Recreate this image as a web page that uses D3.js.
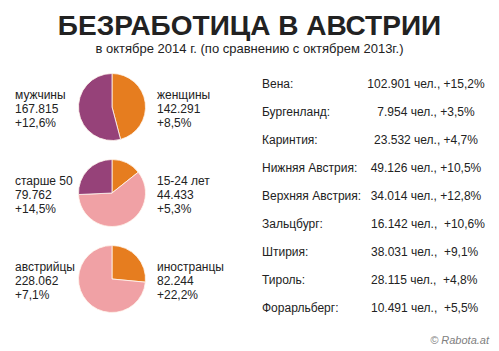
<!DOCTYPE html>
<html>
<head>
<meta charset="utf-8">
<script src="https://cdn.jsdelivr.net/npm/d3@7"></script>
<style>
  body { margin: 0; background: #fff; }
  text { font-family: "Liberation Sans", Arial, sans-serif; fill: #222; }
</style>
</head>
<body>
<svg id="chart" width="499" height="351"></svg>
<script>
// unemployment in Austria, October 2014

var title = "БЕЗРАБОТИЦА В АВСТРИИ"
var subtitle = "в октябре 2014 г. (по сравнению с октябрем 2013г.)"

// pies: left label, right label, slices (clockwise from top)
var pieNames = ["gender", "age", "origin"]
var leftLabels = [
  ["мужчины", "167.815", "+12,6%"],
  ["старше 50", "79.762", "+14,5%"],
  ["австрийцы", "228.062", "+7,1%"]
]
var rightLabels = [
  ["женщины", "142.291", "+8,5%"],
  ["15-24 лет", "44.433", "+5,3%"],
  ["иностранцы", "82.244", "+22,2%"]
]
// slice values, clockwise from 12 o'clock
var sliceValues = [
  [142291, 167815],
  [44433, 185911, 79762],
  [82244, 228062]
]
var sliceKinds = [
  ["orange", "purple"],
  ["orange", "pink", "purple"],
  ["orange", "pink"]
]

// regions table
var regions = ["Вена:", "Бургенланд:", "Каринтия:", "Нижняя Австрия:", "Верхняя Австрия:",
               "Зальцбург:", "Штирия:", "Тироль:", "Форарльберг:"]
var regionCounts = ["102.901", "7.954", "23.532", "49.126", "34.014",
                    "16.142", "38.031", "28.115", "10.491"]
var regionChange = ["+15,2%", "+3,5%", "+4,7%", "+10,5%", "+12,8%",
                    "+10,6%", "+9,1%", "+4,8%", "+5,5%"]

var svg = d3.select("#chart"),
    W = +svg.attr("width"),
    H = +svg.attr("height")

const color = d3.scaleOrdinal()
  .domain(["orange", "purple", "pink"])
  .range(["#e67d1f", "#964279", "#f0a1a5"])

svg.append("text")
  .attr("x", W / 2).attr("y", 35)
  .attr("text-anchor", "middle")
  .style("font-size", "28px").style("font-weight", "bold")
  .text(title)

svg.append("text")
  .attr("x", W / 2).attr("y", 53)
  .attr("text-anchor", "middle")
  .style("font-size", "13px")
  .text(subtitle)

// pies
const py = d3.scalePoint().domain(pieNames).range([107, 279])
const pie = d3.pie().sort(null).value(d => d)
const arc = d3.arc().innerRadius(0).outerRadius(33.5)
const cx = 112

pieNames.forEach((name, i) => {
  var g = svg.append("g").attr("transform", `translate(${cx},${py(name)})`)
  g.selectAll("path")
    .data(pie(sliceValues[i]))
    .join("path")
      .attr("d", arc)
      .attr("fill", (d, j) => color(sliceKinds[i][j]))
      .attr("stroke", "#fff6ee")
      .attr("stroke-width", 0.8)

  var y0 = py(name) - 8
  svg.append("g").selectAll("text")
    .data(leftLabels[i])
    .join("text")
      .attr("x", 15)
      .attr("y", (d, k) => y0 + k * 13.8)
      .style("font-size", "12px")
      .text(d => d)
  svg.append("g").selectAll("text")
    .data(rightLabels[i])
    .join("text")
      .attr("x", 157)
      .attr("y", (d, k) => y0 + k * 13.8)
      .style("font-size", "12px")
      .text(d => d)
})

// table
const ry = d3.scaleBand().domain(regions).range([68, 320])

const rows = svg.append("g").selectAll("g")
  .data(regions)
  .join("g")
    .attr("transform", d => `translate(0,${ry(d) + 20})`)

rows.append("text")
  .attr("x", 262)
  .style("font-size", "12px")
  .text(d => d)

rows.append("text")
  .attr("x", (d, i) => i < 5 ? 426 : 371)
  .attr("text-anchor", (d, i) => i < 5 ? "middle" : "start")
  .style("font-size", "12px")
  .style("white-space", "pre")
  .text((d, i) => regionCounts[i] + " чел.," + (i < 5 ? " " : "  ") + regionChange[i])

svg.append("text")
  .attr("x", 489).attr("y", 344)
  .attr("text-anchor", "end")
  .style("font-size", "11px").style("font-style", "italic")
  .style("fill", "#808080")
  .text("© Rabota.at")
</script>
</body>
</html>
